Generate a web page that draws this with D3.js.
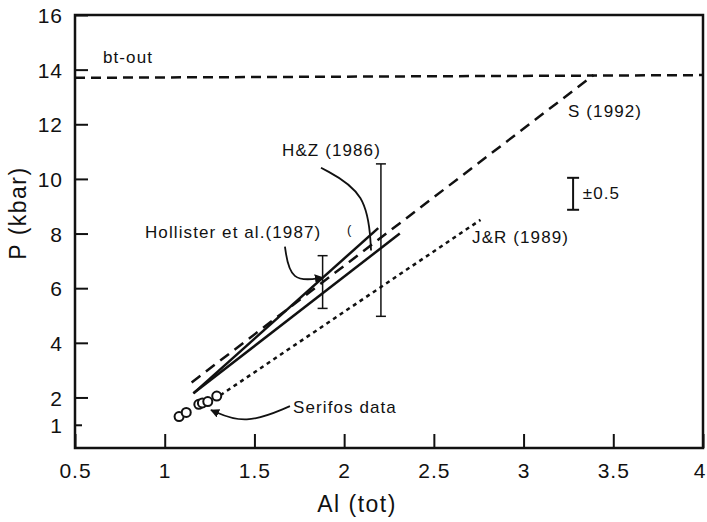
<!DOCTYPE html>
<meta charset="utf-8">
<script src="https://d3js.org/d3.v7.min.js"></script>
<style>
  body { margin: 0; background: #fff; }
  text { font-family: "Liberation Sans", Arial, Helvetica, sans-serif; fill: #111; }
</style>
<div id="my_dataviz"></div>
<script>
// tick values
var xTicks = [0.5, 1, 1.5, 2, 2.5, 3, 3.5, 4];
var yTicks = [1, 2, 4, 6, 8, 10, 12, 14, 16];

// calibration lines (Al(tot), P kbar)
var btOut = [[0.5, 13.7], [4.0, 13.8]];
var s1992 = [[1.15, 2.55], [3.39, 13.8]];
var jr1989 = [[1.31, 2.08], [2.76, 8.5]];
var hollister1987 = [[1.16, 2.15], [2.19, 8.2]];
var hz1986 = [[1.16, 2.15], [2.31, 8.0]];

// Serifos data points
var serifosAl = [1.08, 1.12, 1.19, 1.21, 1.24, 1.29];
var serifosP  = [1.3, 1.45, 1.75, 1.8, 1.85, 2.05];

// error bars [Al, Pmin, Pmax]
var errorBars = [[1.88, 5.26, 7.19], [2.205, 4.97, 10.55], [3.276, 8.87, 10.04]];

// labels [text, Al, P]
var labels = [
  ["bt-out", 0.656, 14.24],
  ["S (1992)", 3.248, 12.27],
  ["H&Z (1986)", 1.654, 10.84],
  ["Hollister et al.(1987)", 0.89, 7.85],
  ["J&R (1989)", 2.713, 7.67],
  ["\u00b10.5", 3.33, 9.27],
  ["Serifos data", 1.715, 1.43]
];

// pointer curves
var pointers = [
  {pts: [[1.698, 1.68], [1.448, 0.99], [1.258, 1.54]], arrow: true},
  {pts: [[1.67, 7.52], [1.70, 6.2], [1.882, 6.39]], arrow: true},
  {pts: [[1.871, 10.41], [2.13, 9.5], [2.15, 7.38]], arrow: false}
];

var W = 707, H = 522;
var svg = d3.select("#my_dataviz").append("svg")
  .attr("width", W).attr("height", H);

var x = d3.scaleLinear().domain([0.5, 4]).range([75, 703]);
var y = d3.scaleLinear().domain([0.15, 16]).range([448, 15]);

svg.append("defs").append("marker")
  .attr("id", "arr").attr("viewBox", "0 0 10 10")
  .attr("refX", 9).attr("refY", 5)
  .attr("markerWidth", 9).attr("markerHeight", 9)
  .attr("markerUnits", "userSpaceOnUse")
  .attr("orient", "auto")
  .append("path").attr("d", "M0,0L10,5L0,10Z").attr("fill", "#111");

// frame
svg.append("rect")
  .attr("x", 75).attr("y", 15).attr("width", 628).attr("height", 433)
  .attr("fill", "none").attr("stroke", "#111").attr("stroke-width", 2.5);

// x axis
var xAxis = svg.append("g")
  .attr("transform", "translate(0,448)")
  .call(d3.axisTop(x).tickValues(xTicks).tickSize(14).tickFormat(function(d) { return d; }));
xAxis.select(".domain").remove();
xAxis.selectAll(".tick line").attr("stroke", "#111").attr("stroke-width", 2);
xAxis.selectAll(".tick text")
  .attr("y", 30).attr("dy", 0)
  .attr("text-anchor", function(d) { return d === 4 ? "end" : "middle"; })
  .attr("x", function(d) { return d === 4 ? 3 : 0; })
  .style("font-size", "21px").style("letter-spacing", "1px");

// y axis
var yAxis = svg.append("g")
  .attr("transform", "translate(75,0)")
  .call(d3.axisRight(y).tickValues(yTicks).tickFormat(function(d) { return d; }));
yAxis.select(".domain").remove();
yAxis.selectAll(".tick line")
  .attr("x2", function(d) { return d === 1 ? 7 : 13; })
  .attr("stroke", "#111").attr("stroke-width", 2);
yAxis.selectAll(".tick text")
  .attr("x", -12).attr("dy", "0.36em")
  .attr("text-anchor", "end")
  .style("font-size", "21px").style("letter-spacing", "1px");

// axis titles
svg.append("text")
  .attr("x", 357).attr("y", 512)
  .attr("text-anchor", "middle")
  .style("font-size", "23px").style("letter-spacing", "1.5px")
  .text("Al (tot)");
svg.append("text")
  .attr("transform", "translate(26,213) rotate(-90)")
  .attr("text-anchor", "middle")
  .style("font-size", "23px").style("letter-spacing", "1.5px")
  .text("P (kbar)");

var line = d3.line()
  .x(function(d) { return x(d[0]); })
  .y(function(d) { return y(d[1]); });

function drawLine(data, dash, w) {
  svg.append("path")
    .datum(data)
    .attr("d", line)
    .attr("fill", "none")
    .attr("stroke", "#111")
    .attr("stroke-width", w)
    .attr("stroke-dasharray", dash);
}

drawLine(btOut, "10,6", 2.5);
drawLine(s1992, "11,7", 2.5);
drawLine(jr1989, "4,4", 2.5);
drawLine(hollister1987, null, 2.5);
drawLine(hz1986, null, 2.5);

// error bars
errorBars.forEach(function(e, i) {
  var g = svg.append("g").attr("stroke", "#111").attr("stroke-width", i === 2 ? 2 : 1.5);
  var cap = i === 2 ? 6 : 5;
  g.append("line").attr("x1", x(e[0])).attr("x2", x(e[0])).attr("y1", y(e[1])).attr("y2", y(e[2]));
  g.append("line").attr("x1", x(e[0]) - cap).attr("x2", x(e[0]) + cap).attr("y1", y(e[1])).attr("y2", y(e[1]));
  g.append("line").attr("x1", x(e[0]) - cap).attr("x2", x(e[0]) + cap).attr("y1", y(e[2])).attr("y2", y(e[2]));
});

// Serifos points
svg.selectAll("circle.pt")
  .data(serifosAl)
  .enter().append("circle")
  .attr("class", "pt")
  .attr("cx", function(d) { return x(d); })
  .attr("cy", function(d, i) { return y(serifosP[i]); })
  .attr("r", 4.5)
  .attr("fill", "#fff")
  .attr("stroke", "#111")
  .attr("stroke-width", 2);

// pointers
var curve = d3.line()
  .x(function(d) { return x(d[0]); })
  .y(function(d) { return y(d[1]); })
  .curve(d3.curveBasis);
pointers.forEach(function(p) {
  svg.append("path")
    .attr("d", curve(p.pts))
    .attr("fill", "none")
    .attr("stroke", "#111")
    .attr("stroke-width", 1.8)
    .attr("marker-end", p.arrow ? "url(#arr)" : null);
});

// labels
svg.selectAll("text.lbl")
  .data(labels)
  .enter().append("text")
  .attr("class", "lbl")
  .attr("x", function(d) { return x(d[1]); })
  .attr("y", function(d) { return y(d[2]); })
  .style("font-size", "17px")
  .style("letter-spacing", "1.1px")
  .text(function(d) { return d[0]; });

svg.append("text")
  .attr("x", x(2.016)).attr("y", y(8.0))
  .style("font-size", "13px")
  .text("(");
</script>
